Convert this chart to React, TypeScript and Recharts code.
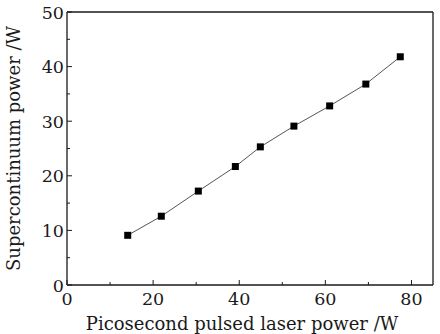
import { LineChart, Line, XAxis, YAxis, ReferenceLine } from "recharts";

const pumpPower = [14.1, 21.9, 30.5, 39.1, 44.9, 52.7, 61.0, 69.4, 77.4];
const scPower = [9.1, 12.6, 17.2, 21.7, 25.3, 29.1, 32.8, 36.8, 41.8];

const xTicks = [0, 10, 20, 30, 40, 50, 60, 70, 80];
const yTicks = [0, 5, 10, 15, 20, 25, 30, 35, 40, 45, 50];

const data = pumpPower.map((p, i) => ({ pump: p, sc: scPower[i] }));

const FONT = "'DejaVu Serif', serif";
const INK = "#1a1a1a";

const XTick = (props: any) => {
  const { x, y, payload } = props;
  const major = payload.value % 20 === 0;
  return (
    <g>
      <line x1={x} y1={y} x2={x} y2={y - (major ? 5 : 3)} stroke={INK} strokeWidth={1} />
      {major && (
        <text x={x} y={y + 20} textAnchor="middle" fontFamily={FONT} fontSize={17.5} fill={INK}>
          {payload.value}
        </text>
      )}
    </g>
  );
};

const YTick = (props: any) => {
  const { x, y, payload } = props;
  const major = payload.value % 10 === 0;
  return (
    <g>
      <line x1={x} y1={y} x2={x + (major ? 5 : 3)} y2={y} stroke={INK} strokeWidth={1} />
      {major && (
        <text x={x - 3} y={y + 6.5} textAnchor="end" fontFamily={FONT} fontSize={17.5} fill={INK}>
          {payload.value}
        </text>
      )}
    </g>
  );
};

const Square = (props: any) => {
  const { cx, cy } = props;
  if (cx == null || cy == null) return null;
  return <rect x={cx - 3.5} y={cy - 3.5} width={7} height={7} fill="#000" />;
};

export default function App() {
  return (
    <div style={{ position: "absolute", left: 0, top: 0, width: 440, height: 334, background: "#fff" }}>
      <LineChart width={440} height={334} data={data} margin={{ top: 12, right: 7, left: 0, bottom: 0 }}>
        <XAxis
          dataKey="pump"
          type="number"
          domain={[0, 85]}
          ticks={xTicks}
          interval={0}
          height={49}
          tickSize={0}
          tickMargin={0}
          tickLine={false}
          tick={<XTick />}
          axisLine={{ stroke: INK, strokeWidth: 1.3 }}
          label={{
            value: "Picosecond pulsed laser power /W",
            position: "insideBottom",
            offset: 4,
            dx: -8,
            fontFamily: FONT,
            fontSize: 18,
            fill: INK,
          }}
        />
        <YAxis
          dataKey="sc"
          type="number"
          domain={[0, 50]}
          ticks={yTicks}
          interval={0}
          width={67}
          tickSize={0}
          tickMargin={0}
          tickLine={false}
          tick={<YTick />}
          axisLine={{ stroke: INK, strokeWidth: 1.3 }}
          label={{
            value: "Supercontinuum power /W",
            angle: -90,
            position: "insideLeft",
            offset: 14,
            style: { textAnchor: "middle" },
            fontFamily: FONT,
            fontSize: 18,
            fill: INK,
          }}
        />
        <ReferenceLine y={50} stroke={INK} strokeWidth={1.3} ifOverflow="visible" />
        <ReferenceLine x={85} stroke={INK} strokeWidth={1.3} ifOverflow="visible" />
        <Line
          dataKey="sc"
          stroke="#555"
          strokeWidth={1}
          dot={<Square />}
          activeDot={false}
          isAnimationActive={false}
        />
      </LineChart>
    </div>
  );
}
